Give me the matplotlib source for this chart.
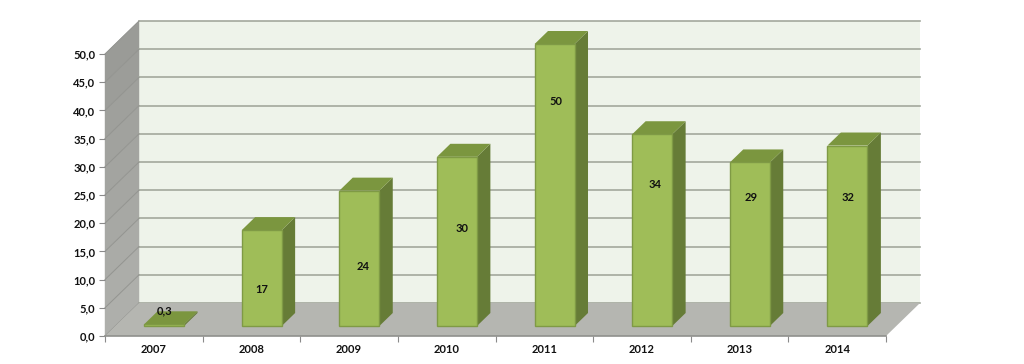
import matplotlib
matplotlib.use("Agg")
import matplotlib.pyplot as plt
from matplotlib.patches import Polygon
import numpy as np

years = ["2007", "2008", "2009", "2010", "2011", "2012", "2013", "2014"]
values = [0.3, 17, 24, 30, 50, 34, 29, 32]
labels = ["0,3", "17", "24", "30", "50", "34", "29", "32"]
label_heights = [2.6, 6.4, 10.6, 17.2, 39.8, 25.0, 22.7, 22.7]
label_shift_px = [0, 0, 3.5, 5.5, 1.5, 2.5, 1.5, 1]
y_ticks = np.arange(0, 51, 5)

W, H = 1024, 364
plt.rcParams['font.family'] = ['Lato', 'DejaVu Sans']
fig = plt.figure(figsize=(W / 100, H / 100), dpi=100, facecolor='white')
ax = fig.add_axes([105 / W, (H - 336) / H, 781 / W, 282 / H])
ax.set_xlim(0, 8)
ax.set_ylim(0, 50)
ax.patch.set_visible(False)
for s in ax.spines.values():
    s.set_visible(False)

PX = 781 / 8
DX = 34 / PX
DY = 33 / (282 / 50)


def proj(x, y, z):
    return (x + z * DX, y + z * DY)


def poly(pts, fc, ec='none', lw=0, z=1):
    ax.add_patch(Polygon(pts, closed=True, facecolor=fc, edgecolor=ec, linewidth=lw,
                         zorder=z, clip_on=False))


# walls and floor
poly([proj(0, 0, 1), proj(8, 0, 1), proj(8, 50, 1), proj(0, 50, 1)], '#eef3ea', z=1)
for lo, hi in zip(y_ticks[:-1], y_ticks[1:]):
    t = lo / 50
    shade = tuple((a + (b - a) * t) / 255 for a, b in zip((174, 175, 171), (152, 153, 149)))
    poly([proj(0, lo, 0), proj(0, lo, 1), proj(0, hi, 1), proj(0, hi, 0)], shade, ec=shade, lw=0.3, z=1)
poly([proj(0, 0, 0), proj(8, 0, 0), proj(8, 0, 1), proj(0, 0, 1)], '#b5b6b1', z=2)

for v in y_ticks:
    a, b = proj(0, v, 1), proj(8, v, 1)
    ax.plot([a[0], b[0]], [a[1], b[1]], color='#a3a89d', lw=1.2, zorder=1.5, clip_on=False)
    f = proj(0, v, 0)
    ax.plot([f[0], a[0]], [f[1], a[1]], color='#939490', lw=0.7, zorder=1.5, clip_on=False)

# bars
Z0, Z1 = 10 / 33, 23 / 33
BW = 40 / PX
for i, v in enumerate(values):
    x0 = i + 0.5 - BW / 2
    x1 = x0 + BW
    poly([proj(x1, 0, Z0), proj(x1, 0, Z1), proj(x1, v, Z1), proj(x1, v, Z0)], '#667c37', z=3)
    poly([proj(x0, v, Z0), proj(x1, v, Z0), proj(x1, v, Z1), proj(x0, v, Z1)], '#7b963f', z=3)
    poly([proj(x0, 0, Z0), proj(x1, 0, Z0), proj(x1, v, Z0), proj(x0, v, Z0)], '#9fbd58',
         ec='#7f9a45', lw=1.0, z=4)
    lx, ly = proj(i + 0.5, label_heights[i], Z0)
    ax.text(lx + label_shift_px[i] / PX, ly, labels[i], ha='center', va='center', fontsize=8,
            fontweight='bold', color='#111111', zorder=5, clip_on=False)

# axes
ax.set_xticks(np.arange(0, 9))
ax.set_xticklabels([])
ax.set_xticks(np.arange(8) + 0.5, labels=years, minor=True)
ax.set_yticks(y_ticks, labels=[f"{v:.1f}".replace('.', ',') for v in y_ticks])
ax.tick_params(axis='x', which='major', length=4, width=0.8, color='#8a8a8a')
ax.tick_params(axis='x', which='minor', length=0, pad=6, labelsize=8, labelcolor='#111111')
ax.tick_params(axis='y', length=4, width=0.8, color='#8a8a8a', pad=3, labelsize=8, labelcolor='#111111')
for t in ax.get_xticklabels(minor=True) + ax.get_yticklabels():
    t.set_fontweight('bold')
ax.plot([0, 8], [0, 0], color='#8f908c', lw=1.2, zorder=3, clip_on=False)

fig.savefig('out.png', dpi=100, facecolor='white')
